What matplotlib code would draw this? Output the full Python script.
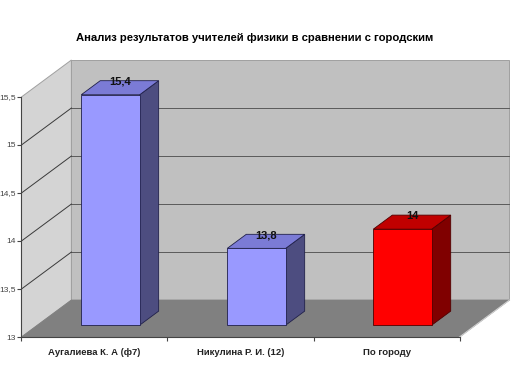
import matplotlib.pyplot as plt
from matplotlib.patches import Polygon
from matplotlib.ticker import FuncFormatter, FixedLocator

plt.rcParams['font.family'] = ['Liberation Sans', 'DejaVu Sans']

title = 'Анализ результатов учителей физики в сравнении с городским'
categories = ['Аугалиева К. А (ф7)', 'Никулина Р. И. (12)', 'По городу']
values = [15.4, 13.8, 14.0]
value_labels = ['15,4', '13,8', '14']
y_ticks = [13, 13.5, 14, 14.5, 15, 15.5]

# colours of front / top / side faces and edge
face_colors = [('#9999ff', '#7b7bd6', '#4d4d80', '#20204a'),
               ('#9999ff', '#7b7bd6', '#4d4d80', '#20204a'),
               ('#ff0000', '#c00000', '#800000', '#500000')]

y0, y1 = 13, 15.5
DX, DY = 0.342, 0.385      # full depth of the 3d box in data units
f0, fd = 0.32, 0.38        # bar depth start and depth size (fractions)
bw = 0.40                  # bar width

fig = plt.figure(figsize=(5.2, 3.9), dpi=100)
ax = fig.add_axes([0, 0, 1, 1])
ax.set_xlim(-0.647, 2.914)
ax.set_ylim(12.448, 16.51)

# walls and floor
left_wall = Polygon([(-0.5, y0), (-0.5, y1), (-0.5 + DX, y1 + DY), (-0.5 + DX, y0 + DY)],
                    closed=True, fc='#d4d4d4', ec='#a0a0a0', lw=0.7, zorder=1)
back_wall = Polygon([(-0.5 + DX, y0 + DY), (-0.5 + DX, y1 + DY), (2.5 + DX, y1 + DY), (2.5 + DX, y0 + DY)],
                    closed=True, fc='#c0c0c0', ec='#a0a0a0', lw=0.7, zorder=1)
ax.add_patch(left_wall)
ax.add_patch(back_wall)

for t in y_ticks[1:-1]:
    ax.plot([-0.5 + DX, 2.5 + DX], [t + DY, t + DY], color='#5a5a5a', lw=0.7, zorder=2)
for t in y_ticks[1:-1]:
    ax.plot([-0.5, -0.5 + DX], [t, t + DY], color='#3a3a3a', lw=0.7, zorder=2)

floor = Polygon([(-0.5, y0), (2.5, y0), (2.5 + DX, y0 + DY), (-0.5 + DX, y0 + DY)],
                closed=True, fc='#808080', ec='#808080', lw=0.6, zorder=3)
ax.add_patch(floor)
ax.plot([2.5, 2.5 + DX], [y0, y0 + DY], color='#d0d0d0', lw=0.8, zorder=3)

# bars
for i, (v, lab, cols) in enumerate(zip(values, value_labels, face_colors)):
    front, top, side, edge = cols
    xl = i - bw / 2 + f0 * DX
    xr = i + bw / 2 + f0 * DX
    yb = y0 + f0 * DY
    yt = v + f0 * DY
    ddx, ddy = fd * DX, fd * DY
    ax.add_patch(Polygon([(xr, yb), (xr + ddx, yb + ddy), (xr + ddx, yt + ddy), (xr, yt)],
                         closed=True, fc=side, ec=edge, lw=0.6, zorder=4))
    ax.add_patch(Polygon([(xl, yt), (xr, yt), (xr + ddx, yt + ddy), (xl + ddx, yt + ddy)],
                         closed=True, fc=top, ec=edge, lw=0.6, zorder=4))
    ax.add_patch(Polygon([(xl, yb), (xr, yb), (xr, yt), (xl, yt)],
                         closed=True, fc=front, ec=edge, lw=0.6, zorder=5))
    ax.text(i + f0 * DX + ddx / 2, yt + ddy / 2 + 0.06, lab, ha='center', va='center',
            fontsize=8, fontweight='bold', color='#111111', zorder=6)

# axes
for s in ['top', 'right']:
    ax.spines[s].set_visible(False)
ax.spines['left'].set_position(('data', -0.5))
ax.spines['left'].set_bounds(y0, y1)
ax.spines['bottom'].set_position(('data', y0))
ax.spines['bottom'].set_bounds(-0.5, 2.5)
for s in ['left', 'bottom']:
    ax.spines[s].set_color('#444444')
    ax.spines[s].set_linewidth(0.8)
    ax.spines[s].set_zorder(6)

ax.yaxis.set_major_locator(FixedLocator(y_ticks))
ax.yaxis.set_major_formatter(FuncFormatter(lambda v, p: ('%g' % v).replace('.', ',')))
ax.tick_params(axis='y', length=3, width=0.8, pad=1, labelsize=6, colors='#444444')

ax.set_xticks(range(len(categories)))
ax.set_xticklabels(categories, fontsize=6.8, fontweight='bold', color='#222222')
ax.set_xticks([-0.5, 0.5, 1.5, 2.5], minor=True)
ax.tick_params(axis='x', which='major', length=0, pad=8)
ax.tick_params(axis='x', which='minor', length=3, width=0.8, color='#444444')

fig.text(0.49, 1 - 38 / 390, title, ha='center', va='center', fontsize=8.1, fontweight='bold')

fig.savefig('out.png', dpi=100)
